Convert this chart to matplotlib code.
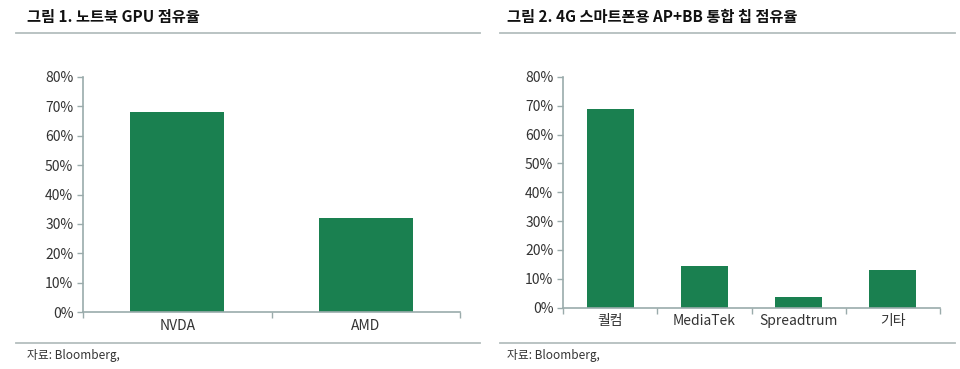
import matplotlib
matplotlib.use('Agg')
import matplotlib.pyplot as plt
from matplotlib.lines import Line2D
from matplotlib.ticker import FuncFormatter
import numpy as np

plt.rcParams['font.family'] = ['Noto Sans CJK KR', 'DejaVu Sans']

# data
gpu_names = ['NVDA', 'AMD']
gpu_share = [68, 32]

chip_names = ['퀄컴', 'MediaTek', 'Spreadtrum', '기타']
chip_share = [69, 14.5, 3.5, 13]

titles = ['그림 1. 노트북 GPU 점유율', '그림 2. 4G 스마트폰용 AP+BB 통합 칩 점유율']
source = '자료: Bloomberg,'

bar_color = '#1a8050'
axis_color = '#9aabab'
rule_color = '#b4bebe'
text_color = '#333333'

fig = plt.figure(figsize=(9.6, 3.69), dpi=100)

ax1 = fig.add_axes([83/960, 1 - 312/369, 377/960, 235/369])
ax2 = fig.add_axes([563/960, 1 - 307.5/369, 377/960, 230.5/369])


def draw(ax, names, vals):
    x = np.arange(len(names))
    ax.bar(x, vals, width=0.5, color=bar_color, zorder=2)
    ax.set_xlim(-0.5, len(names) - 0.5)
    ax.set_ylim(0, 80)
    ax.set_yticks(np.arange(0, 81, 10))
    ax.yaxis.set_major_formatter(FuncFormatter(lambda v, p: '%d%%' % v))
    ax.set_xticks(np.arange(-0.5, len(names), 1.0))
    ax.set_xticklabels([])
    ax.set_xticks(x, minor=True)
    ax.set_xticklabels(names, minor=True)
    ax.tick_params(axis='x', which='major', length=4, color=axis_color, width=1)
    ax.tick_params(axis='x', which='minor', length=0, pad=5, labelsize=10, labelcolor=text_color)
    ax.tick_params(axis='y', length=4, color=axis_color, width=1, labelsize=10,
                   labelcolor=text_color, pad=3)
    for s in ['top', 'right']:
        ax.spines[s].set_visible(False)
    for s in ['left', 'bottom']:
        ax.spines[s].set_color(axis_color)
        ax.spines[s].set_linewidth(1.2)


draw(ax1, gpu_names, gpu_share)
draw(ax2, chip_names, chip_share)

# titles, rules and source notes
for x0, x1, tx, title in [(16, 480, 27, titles[0]), (500, 955, 507, titles[1])]:
    fig.text(tx / 960, 1 - 17 / 369, title, fontsize=11, fontweight='bold',
             color='#111111', va='center', ha='left')
    fig.add_artist(Line2D([x0 / 960, x1 / 960], [1 - 32.5 / 369] * 2,
                          color=rule_color, lw=1.3))
    fig.add_artist(Line2D([x0 / 960, x1 / 960], [1 - 343 / 369] * 2,
                          color=rule_color, lw=1.3))
    fig.text(tx / 960, 1 - 355 / 369, source, fontsize=8.5, color=text_color,
             va='center', ha='left')

fig.savefig('out.png', dpi=100, facecolor='white')
